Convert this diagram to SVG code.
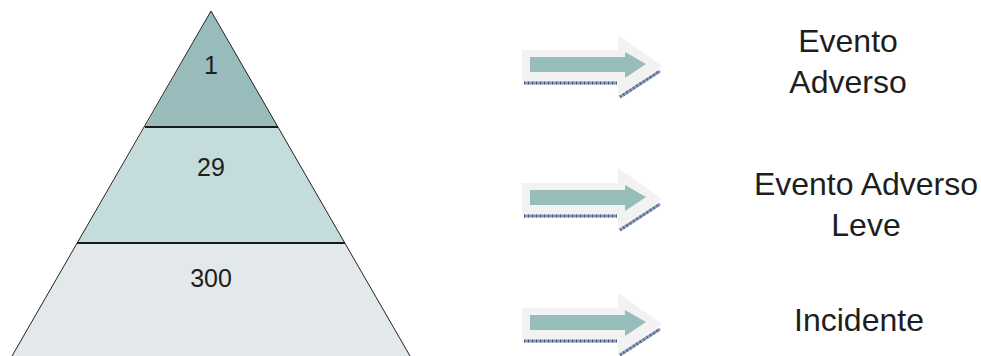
<svg xmlns="http://www.w3.org/2000/svg" width="981" height="356" viewBox="0 0 981 356">
<defs>
<style>
.lbl{font-family:"Liberation Sans",Arial,sans-serif;fill:#1e1e1e;text-anchor:middle}
.num{font-size:25px}
.big{font-size:32px}
.outer{fill:#f2f2f2}
.inner{fill:#97bdba}
.hatch{stroke:#8898b8;stroke-width:3;fill:none}
.hatch2{stroke:#4a5a80;stroke-width:3;stroke-dasharray:1 3;fill:none}
.sep{stroke:#1a1a1a;stroke-width:2}
.edge{stroke:#222;stroke-width:1;fill:none}
</style>
<g id="arrowShape">
<polygon class="outer" points="522,50 618,50 618,35 662,66 618,97 618,81 522,81"/>
<line class="hatch" x1="524" y1="83" x2="617" y2="83"/>
<line class="hatch2" x1="524" y1="83" x2="617" y2="83"/>
<line class="hatch" x1="620" y1="97" x2="660" y2="71"/>
<line class="hatch2" x1="620" y1="97" x2="660" y2="71"/>
<polygon class="inner" points="530,57 625,57 625,52 646,64 625,78 625,72 530,72"/>
</g>
</defs>
<g id="pyramid">
<g id="tier-top">
<polygon points="211,11 145,127 278,127" fill="#97bcbb"/>
<text class="lbl num" x="211" y="74">1</text>
</g>
<g id="tier-middle">
<polygon points="145,127 278,127 345,243 77,243" fill="#c5dcdc"/>
<text class="lbl num" x="211" y="176">29</text>
</g>
<g id="tier-bottom">
<polygon points="77,243 345,243 410,356 12,356" fill="#e3e9eb"/>
<text class="lbl num" x="211" y="287">300</text>
</g>
<polyline class="edge" points="12,356 211,11 410,356"/>
<line class="sep" x1="145" y1="127" x2="278" y2="127"/>
<line class="sep" x1="77" y1="243" x2="345" y2="243"/>
</g>
<g id="connectors">
<use id="arrow1" href="#arrowShape"/>
<use id="arrow2" href="#arrowShape" transform="translate(0,133)"/>
<use id="arrow3" href="#arrowShape" transform="translate(0,258)"/>
</g>
<g id="label-evento-adverso">
<text class="lbl big" x="848" y="52">Evento</text>
<text class="lbl big" x="848" y="93">Adverso</text>
</g>
<g id="label-evento-adverso-leve">
<text class="lbl big" x="866" y="195">Evento Adverso</text>
<text class="lbl big" x="866" y="236">Leve</text>
</g>
<g id="label-incidente">
<text class="lbl big" x="859" y="331">Incidente</text>
</g>
</svg>
